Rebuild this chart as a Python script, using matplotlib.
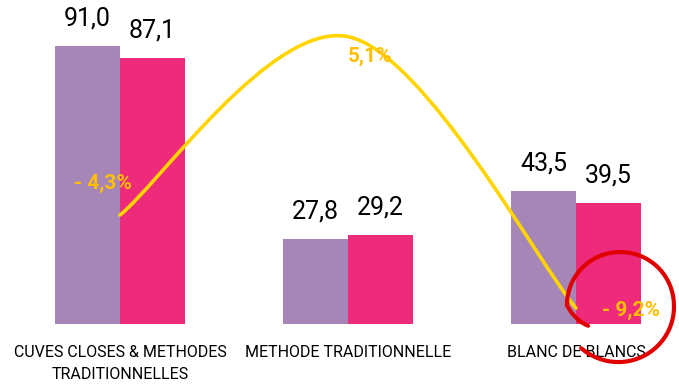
import numpy as np
import matplotlib.pyplot as plt
from matplotlib.path import Path
from matplotlib.patches import PathPatch

plt.rcParams['font.family'] = ['Roboto', 'DejaVu Sans']

categories = ['CUVES CLOSES & METHODES\nTRADITIONNELLES', 'METHODE TRADITIONNELLE', 'BLANC DE BLANCS']
serie_a = [91.0, 27.8, 43.5]
serie_b = [87.1, 29.2, 39.5]
evolution = [-4.3, 5.1, -9.2]
evolution_labels = ['- 4,3%', '5,1%', '- 9,2%']

purple = '#A686B6'
pink = '#EE2A7B'
yellow = '#FFD500'
gold = '#FFBF00'

fig = plt.figure(figsize=(6.79, 3.85), dpi=100)
ax = fig.add_axes([0, 61 / 385, 1, 1 - 61 / 385])
x = np.arange(len(categories))
w = 0.285

ax.bar(x - w / 2, serie_a, w, color=purple)
ax.bar(x + w / 2, serie_b, w, color=pink)
for xi, a, b in zip(x, serie_a, serie_b):
    ax.text(xi - w / 2, a + 5, f'{a:.1f}'.replace('.', ','), ha='center', va='bottom', fontsize=18)
    ax.text(xi + w / 2, b + 5, f'{b:.1f}'.replace('.', ','), ha='center', va='bottom', fontsize=18)

ax.set_xlim(-0.526, 2.452)
ax.set_ylim(0, 106)
ax.axis('off')

for xi, c in zip(x, categories):
    ax.text(xi, -7, c, ha='center', va='top', fontsize=11.5, linespacing=1.55,
            clip_on=False)

# smoothed line on secondary scale
ax2 = ax.twinx()
ax2.set_ylim(-10.04, 7.03)
ax2.axis('off')
pts = np.column_stack([x, evolution]).astype(float)
n = len(pts)
verts = [pts[0]]
codes = [Path.MOVETO]
for i in range(n - 1):
    p0 = pts[i - 1] if i > 0 else pts[i]
    p1, p2 = pts[i], pts[i + 1]
    p3 = pts[i + 2] if i + 2 < n else pts[i + 1]
    verts += [p1 + (p2 - p0) / 6, p2 - (p3 - p1) / 6, p2]
    codes += [Path.CURVE4] * 3
ax2.add_patch(PathPatch(Path(verts, codes), fill=False, edgecolor=yellow, lw=2.6, capstyle='round'))

offsets = [(-12, 23), (16, -14), (40, -2)]
for off, xi, v, t in zip(offsets, x, evolution, evolution_labels):
    ax2.annotate(t, (xi, v), xytext=off, textcoords='offset points', ha='center',
                 va='center', fontsize=15, fontweight='bold', color=gold, family='Roboto')

# hand drawn circle around last label
sx = 1 / 228
sy = (7.03 + 10.04) / 324
cx, cy = 2 + 44 * sx, -9.2 + 3 * sy
th = np.radians(np.linspace(213, -132, 200))
r = np.interp(th, np.radians([-132, -90, 0, 90, 180, 213]), [58, 57, 54, 53, 53, 38])
ax2.plot(cx + r * np.cos(th) * sx, cy + r * np.sin(th) * sy,
         color='#E00000', lw=3, solid_capstyle='round', clip_on=False)

fig.savefig('out.png', dpi=100)
